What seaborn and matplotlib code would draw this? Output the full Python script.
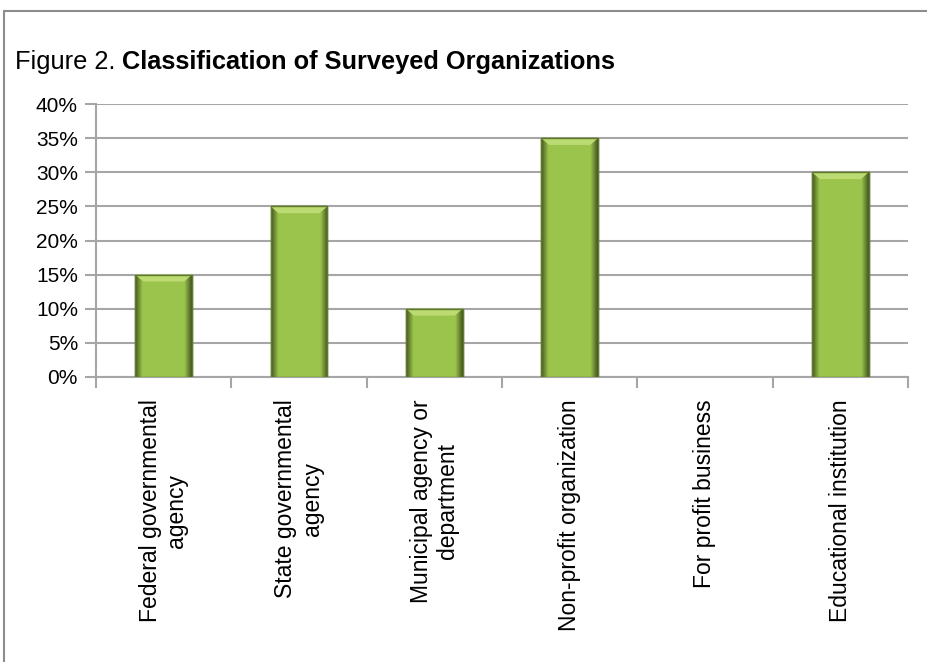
import matplotlib
matplotlib.use("Agg")
import matplotlib.pyplot as plt
import numpy as np
import pandas as pd
import seaborn as sns
from matplotlib.lines import Line2D
from matplotlib.patches import Polygon
from matplotlib.ticker import FuncFormatter, FixedLocator

categories = [
    "Federal governmental\nagency",
    "State governmental\nagency",
    "Municipal agency or\ndepartment",
    "Non-profit organization",
    "For profit business",
    "Educational institution",
]
shares = [15, 25, 10, 35, 0, 30]
y_ticks = [0, 5, 10, 15, 20, 25, 30, 35, 40]

df = pd.DataFrame({"category": categories, "share": shares})

sns.set_theme(style="white")
plt.rcParams["font.family"] = ["Liberation Sans", "DejaVu Sans"]

fig = plt.figure(figsize=(9.27, 6.62), dpi=100)
ax = fig.add_axes([96 / 927, 1 - 377 / 662, (908 - 96) / 927, (377 - 104) / 662])

sns.barplot(data=df, x="category", y="share", ax=ax, color="#9bbb59",
            width=0.42, edgecolor="#5f7a2a", linewidth=1.0, zorder=3,
            saturation=1)

# bevelled look: soft side shading and a lighter top facet on each bar
grad = np.linspace(0, 1, 64)
shade = 1 - 0.55 * np.clip(np.abs(grad - 0.5) * 2 - 0.75, 0, None) / 0.25
for patch in ax.patches:
    h = patch.get_height()
    if h <= 0:
        patch.set_visible(False)
        continue
    x0, w = patch.get_x(), patch.get_width()
    base = np.array([0.61, 0.77, 0.30])
    img = np.clip(base[None, None, :] * shade[None, :, None], 0, 1)
    im = ax.imshow(img, extent=[x0, x0 + w, 0, h], aspect="auto",
                   zorder=3.5, interpolation="bilinear")
    im.set_clip_path(patch)
    dy = 1.0
    dx = w * 0.14
    top = Polygon([[x0, h], [x0 + w, h], [x0 + w - dx, h - dy], [x0 + dx, h - dy]],
                  closed=True, facecolor="#bcdb72", edgecolor="none", zorder=3.6)
    ax.add_patch(top)
    edge = plt.Rectangle((x0, 0), w, h, fill=False, edgecolor="#5f7a2a",
                         linewidth=1.0, zorder=3.7)
    ax.add_patch(edge)

ax.set_xlim(-0.5, len(categories) - 0.5)
ax.set_ylim(0, 40)
ax.set_yticks(y_ticks)
ax.yaxis.set_major_formatter(FuncFormatter(lambda v, p: f"{int(v)}%"))
ax.grid(axis="y", color="#a6a6a6", linewidth=1.5, zorder=0)
ax.set_axisbelow(True)

for s in ["top", "right"]:
    ax.spines[s].set_visible(False)
for s in ["left", "bottom"]:
    ax.spines[s].set_color("#a6a6a6")
    ax.spines[s].set_linewidth(1.5)

ax.set_xlabel("")
ax.set_ylabel("")
ax.tick_params(axis="y", which="major", direction="out", length=8, width=1.5,
               color="#a6a6a6", labelsize=15, labelcolor="black", pad=5, left=True)
ax.set_xticks(range(len(categories)))
ax.set_xticklabels(categories, rotation=90, ha="center", va="top",
                   multialignment="center", fontsize=16.5, color="black")
ax.tick_params(axis="x", which="major", length=0, pad=16)
ax.xaxis.set_minor_locator(FixedLocator(np.arange(-0.5, len(categories), 1.0)))
ax.tick_params(axis="x", which="minor", direction="out", length=8, width=1.5,
               color="#a6a6a6", bottom=True)

head = fig.text(15 / 927, 1 - 69 / 662, "Figure 2. ", fontsize=18.3, ha="left",
                va="baseline", color="black")
fig.canvas.draw()
r = head.get_window_extent()
fig.text(r.x1 / 927, 1 - 69 / 662, "Classification of Surveyed Organizations",
         fontsize=18.3, fontweight="bold", ha="left", va="baseline", color="black")

# chart frame
fig.add_artist(Line2D([4 / 927, 1], [1 - 11 / 662, 1 - 11 / 662],
                      transform=fig.transFigure, color="#8c8c8c", linewidth=1.5))
fig.add_artist(Line2D([4 / 927, 4 / 927], [0, 1 - 11 / 662],
                      transform=fig.transFigure, color="#8c8c8c", linewidth=1.5))

fig.savefig("out.png", dpi=100)
